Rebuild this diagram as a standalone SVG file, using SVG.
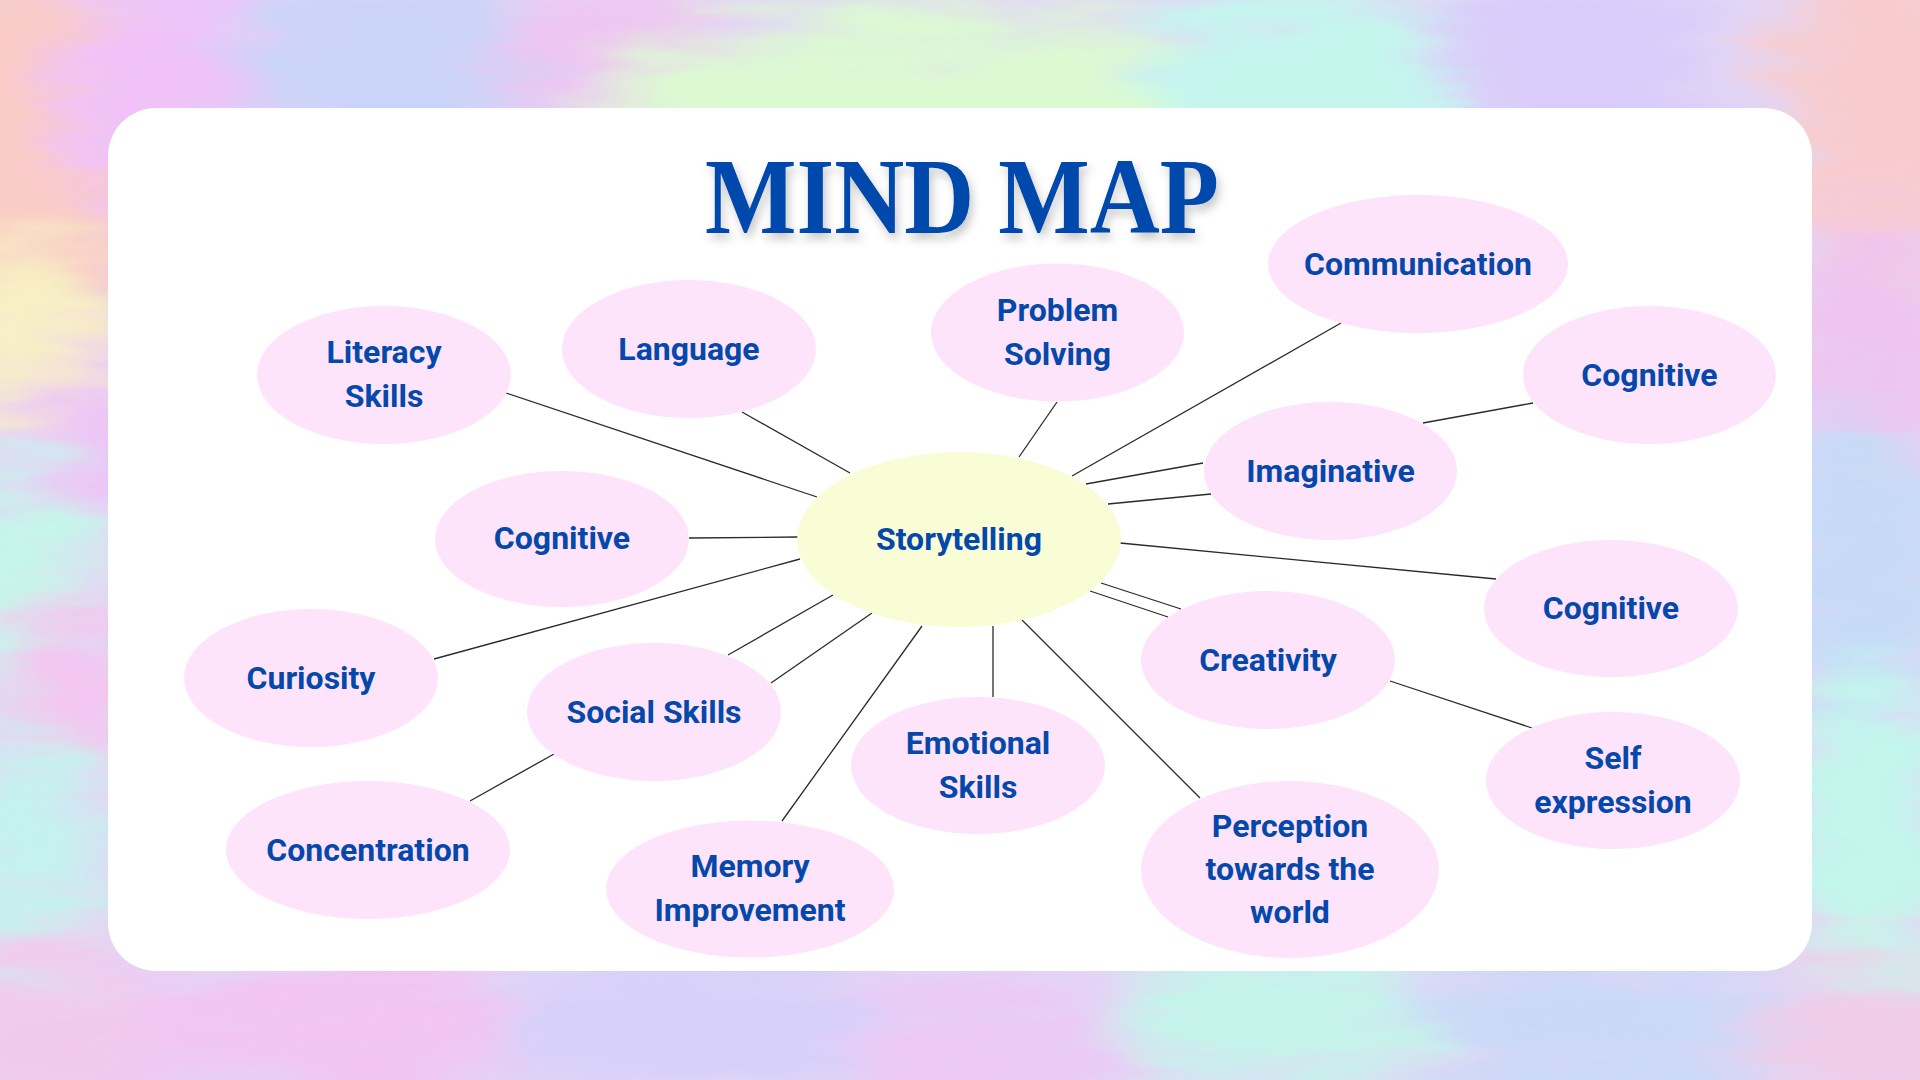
<svg xmlns="http://www.w3.org/2000/svg" width="1920" height="1080" viewBox="0 0 1920 1080">
  <defs>
    <style>
      .node { fill: #fde4fb; }
      .center { fill: #f9fdd6; }
      .lbl { font-family: Roboto, "Liberation Sans", sans-serif; font-weight: 700; font-size: 32px; fill: #0448ac; text-anchor: middle; }
      .conn line { stroke: #2a2a2a; stroke-width: 1.3; }
      .title { font-family: "Liberation Serif", "DejaVu Serif", serif; font-weight: 700; font-size: 108px; fill: #0448ac; text-anchor: middle; }
    </style>
    <filter id="blur" x="-50%" y="-50%" width="200%" height="200%">
      <feGaussianBlur stdDeviation="30" result="b"/>
      <feTurbulence type="fractalNoise" baseFrequency="0.006 0.03" numOctaves="3" seed="7" result="t"/>
      <feDisplacementMap in="b" in2="t" scale="110" xChannelSelector="R" yChannelSelector="G"/>
    </filter>
    <filter id="shadow" x="-10%" y="-30%" width="120%" height="160%">
      <feDropShadow dx="3" dy="6" stdDeviation="5" flood-color="#000" flood-opacity="0.22"/>
    </filter>
  </defs>

  <!-- background -->
  <rect x="0" y="0" width="1920" height="1080" fill="#e2d6f6"/>
  <g filter="url(#blur)">
    <ellipse cx="40" cy="160" rx="130" ry="220" fill="#f9cbc6"/>
    <ellipse cx="170" cy="90" rx="110" ry="120" fill="#f0c2f8"/>
    <ellipse cx="400" cy="70" rx="170" ry="110" fill="#cad4f8"/>
    <ellipse cx="620" cy="60" rx="120" ry="90" fill="#efc4f2"/>
    <ellipse cx="920" cy="120" rx="330" ry="110" fill="#dcfad2"/>
    <ellipse cx="1300" cy="80" rx="160" ry="100" fill="#c4f6ee"/>
    <ellipse cx="1580" cy="60" rx="140" ry="100" fill="#d9ccfa"/>
    <ellipse cx="1890" cy="120" rx="110" ry="200" fill="#f8cccf"/>
    <ellipse cx="1870" cy="360" rx="90" ry="140" fill="#efc4f0"/>
    <ellipse cx="1860" cy="560" rx="90" ry="160" fill="#c6daf7"/>
    <ellipse cx="1870" cy="830" rx="90" ry="160" fill="#c3f6ec"/>
    <ellipse cx="1880" cy="1040" rx="110" ry="90" fill="#f0cce8"/>
    <ellipse cx="30" cy="330" rx="90" ry="90" fill="#f8f0c4"/>
    <ellipse cx="90" cy="440" rx="70" ry="80" fill="#edc4f6"/>
    <ellipse cx="20" cy="580" rx="80" ry="110" fill="#c4f6ea"/>
    <ellipse cx="70" cy="700" rx="70" ry="90" fill="#f4c4f0"/>
    <ellipse cx="30" cy="850" rx="80" ry="120" fill="#c4f2ee"/>
    <ellipse cx="60" cy="1030" rx="120" ry="90" fill="#f2c9ee"/>
    <ellipse cx="330" cy="1030" rx="200" ry="80" fill="#f2c4f2"/>
    <ellipse cx="700" cy="1030" rx="200" ry="80" fill="#d6d0fa"/>
    <ellipse cx="1000" cy="1040" rx="150" ry="70" fill="#ecc8f6"/>
    <ellipse cx="1280" cy="1010" rx="180" ry="80" fill="#c4f4ea"/>
    <ellipse cx="1600" cy="1030" rx="180" ry="80" fill="#cad8f8"/>
  </g>

  <!-- card -->
  <rect x="108" y="108" width="1704" height="863" rx="48" ry="48" fill="#ffffff"/>

  <!-- title -->
  <g id="title" filter="url(#shadow)">
    <text class="title" x="962" y="233" textLength="514" lengthAdjust="spacingAndGlyphs">MIND MAP</text>
  </g>

  <!-- connectors -->
  <g id="connectors" class="conn">
    <line x1="506" y1="393" x2="817" y2="497"/>
    <line x1="742" y1="412" x2="850" y2="473"/>
    <line x1="689" y1="538" x2="798" y2="537"/>
    <line x1="434" y1="659" x2="800" y2="559"/>
    <line x1="728" y1="655" x2="833" y2="595"/>
    <line x1="771" y1="683" x2="872" y2="613"/>
    <line x1="782" y1="821" x2="922" y2="626"/>
    <line x1="993" y1="626" x2="993" y2="697"/>
    <line x1="1022" y1="620" x2="1200" y2="798"/>
    <line x1="1101" y1="583" x2="1181" y2="609"/>
    <line x1="1090" y1="591" x2="1168" y2="617"/>
    <line x1="1120" y1="543" x2="1496" y2="579"/>
    <line x1="1086" y1="484" x2="1203" y2="463"/>
    <line x1="1108" y1="504" x2="1211" y2="494"/>
    <line x1="1072" y1="476" x2="1341" y2="323"/>
    <line x1="1019" y1="457" x2="1057" y2="402"/>
    <line x1="1533" y1="403" x2="1423" y2="423"/>
    <line x1="1390" y1="681" x2="1532" y2="728"/>
    <line x1="554" y1="754" x2="470" y2="801"/>
  </g>

  <!-- nodes -->
  <g id="storytelling">
    <ellipse class="center" cx="959" cy="539.5" rx="162" ry="87.5"/>
    <text class="lbl" x="959" y="550">Storytelling</text>
  </g>
  <g id="literacy-skills">
    <ellipse class="node" cx="384" cy="375" rx="127" ry="69"/>
    <text class="lbl" x="384" y="363">Literacy</text>
    <text class="lbl" x="384" y="407">Skills</text>
  </g>
  <g id="language">
    <ellipse class="node" cx="689" cy="349" rx="127" ry="69"/>
    <text class="lbl" x="689" y="360">Language</text>
  </g>
  <g id="problem-solving">
    <ellipse class="node" cx="1057.5" cy="332.5" rx="126.5" ry="69"/>
    <text class="lbl" x="1057.5" y="321">Problem</text>
    <text class="lbl" x="1057.5" y="365">Solving</text>
  </g>
  <g id="communication">
    <ellipse class="node" cx="1418" cy="264" rx="150" ry="69"/>
    <text class="lbl" x="1418" y="275">Communication</text>
  </g>
  <g id="cognitive-top-right">
    <ellipse class="node" cx="1649.5" cy="375" rx="126.5" ry="69"/>
    <text class="lbl" x="1649.5" y="386">Cognitive</text>
  </g>
  <g id="imaginative">
    <ellipse class="node" cx="1330.5" cy="471" rx="126.5" ry="69"/>
    <text class="lbl" x="1330.5" y="482">Imaginative</text>
  </g>
  <g id="cognitive-left">
    <ellipse class="node" cx="562" cy="539" rx="127" ry="68"/>
    <text class="lbl" x="562" y="549">Cognitive</text>
  </g>
  <g id="cognitive-right">
    <ellipse class="node" cx="1611" cy="608.5" rx="127" ry="68.5"/>
    <text class="lbl" x="1611" y="619">Cognitive</text>
  </g>
  <g id="curiosity">
    <ellipse class="node" cx="311" cy="678" rx="127" ry="69"/>
    <text class="lbl" x="311" y="689">Curiosity</text>
  </g>
  <g id="social-skills">
    <ellipse class="node" cx="654" cy="712" rx="127" ry="69"/>
    <text class="lbl" x="654" y="723">Social Skills</text>
  </g>
  <g id="creativity">
    <ellipse class="node" cx="1268" cy="660" rx="127" ry="69"/>
    <text class="lbl" x="1268" y="671">Creativity</text>
  </g>
  <g id="emotional-skills">
    <ellipse class="node" cx="978" cy="765.5" rx="127" ry="68.5"/>
    <text class="lbl" x="978" y="754">Emotional</text>
    <text class="lbl" x="978" y="798">Skills</text>
  </g>
  <g id="self-expression">
    <ellipse class="node" cx="1613" cy="780.5" rx="127" ry="68.5"/>
    <text class="lbl" x="1613" y="769">Self</text>
    <text class="lbl" x="1613" y="813">expression</text>
  </g>
  <g id="concentration">
    <ellipse class="node" cx="368" cy="850" rx="142" ry="69"/>
    <text class="lbl" x="368" y="861">Concentration</text>
  </g>
  <g id="memory-improvement">
    <ellipse class="node" cx="750" cy="889" rx="144" ry="68.5"/>
    <text class="lbl" x="750" y="877">Memory</text>
    <text class="lbl" x="750" y="921">Improvement</text>
  </g>
  <g id="perception">
    <ellipse class="node" cx="1290" cy="869.5" rx="149" ry="88.5"/>
    <text class="lbl" x="1290" y="837">Perception</text>
    <text class="lbl" x="1290" y="880">towards the</text>
    <text class="lbl" x="1290" y="923">world</text>
  </g>
</svg>
